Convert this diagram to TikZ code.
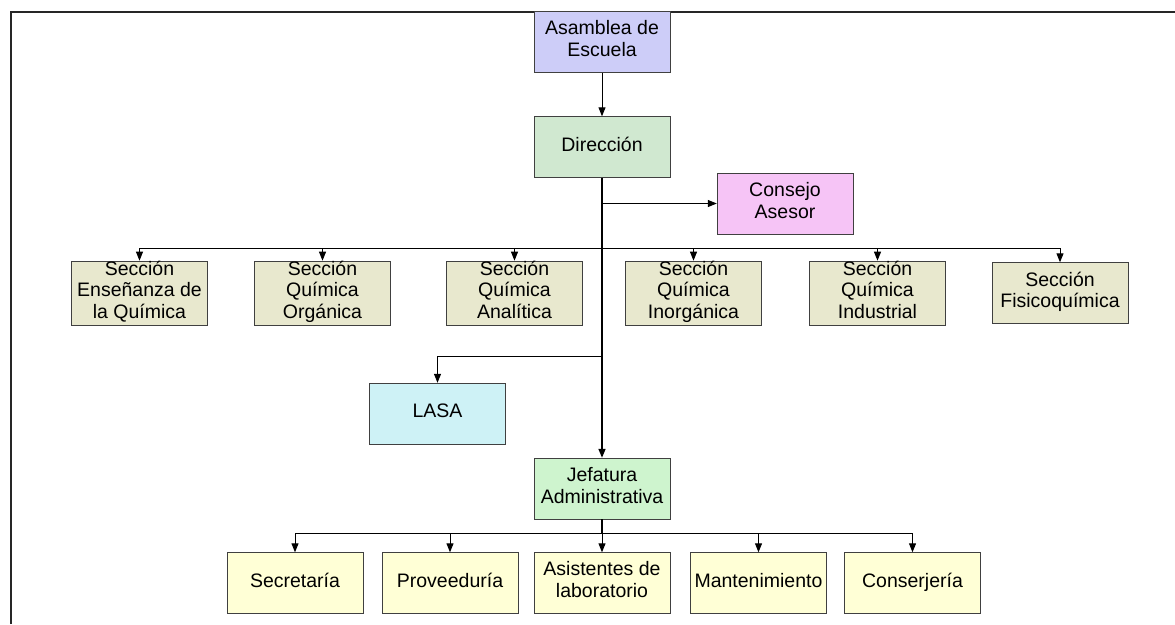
\documentclass[tikz,border=0pt]{standalone}
\usepackage{fontspec}
\setmainfont{Liberation Sans}
\usetikzlibrary{positioning,arrows.meta}

\definecolor{asmfill}{RGB}{205,205,248}
\definecolor{dirfill}{RGB}{208,232,208}
\definecolor{consfill}{RGB}{246,196,246}
\definecolor{secfill}{RGB}{232,232,206}
\definecolor{lasafill}{RGB}{206,242,246}
\definecolor{jefefill}{RGB}{206,244,206}
\definecolor{unitfill}{RGB}{255,255,214}

\begin{document}
\begin{tikzpicture}[x=1pt,y=-1pt,
box/.style={draw=black!75,rectangle,minimum width=136pt,minimum height=61pt,
    inner sep=0pt,align=center,font={\fontsize{19.5}{21.7}\selectfont},
    execute at begin node=\strut,execute at end node=\strut},
arr/.style={-{Triangle[length=9pt,width=7pt]},line width=1pt}]
\useasboundingbox (0,0) rectangle (1175,624);
\draw[line width=1.6pt,black!85] (11,624) -- (11,12) -- (1175,12);

\node (asm) [box,fill=asmfill] at (602,42) {Asamblea de\\Escuela};
\node (dir) [box,fill=dirfill] at (602,147) {Dirección};
\node (cons) [box,fill=consfill] at (785,203.5) {Consejo\\Asesor};

\node (ense) [box,fill=secfill] at (139.5,293) {Sección\\Enseñanza de\\la Química};
\node (orga) [box,fill=secfill] at (322.5,293) {Sección\\Química\\Orgánica};
\node (anal) [box,fill=secfill] at (514.5,293) {Sección\\Química\\Analítica};
\node (inor) [box,fill=secfill] at (693.5,293) {Sección\\Química\\Inorgánica};
\node (indu) [box,fill=secfill] at (877.5,293) {Sección\\Química\\Industrial};
\node (fisi) [box,fill=secfill] at (1060,293) {Sección\\Fisicoquímica};

\node (lasa) [box,fill=lasafill] at (437.5,413.5) {LASA};
\node (jefe) [box,fill=jefefill] at (602,488.5) {Jefatura\\Administrativa};

\node (secr) [box,fill=unitfill] at (295,583) {Secretaría};
\node (prov) [box,fill=unitfill] at (450,583) {Proveeduría};
\node (asis) [box,fill=unitfill] at (602,583) {Asistentes de\\laboratorio};
\node (mant) [box,fill=unitfill] at (758.5,583) {Mantenimiento};
\node (conj) [box,fill=unitfill] at (912.5,583) {Conserjería};

\coordinate (secbus) at (602,248);
\coordinate (lasabr) at (602,356);
\coordinate (unitbus) at (602,533);

\draw[arr] (asm) -- (dir);
\draw[arr,line width=1.6pt] (dir) -- (jefe);
\draw[arr] (dir.south |- cons.west) -- (cons.west);
\foreach \s in {ense,orga,anal,inor,indu,fisi}
  \draw[arr] (secbus) -| (\s.north);
\draw[arr] (lasabr) -| (lasa.north);
\draw[line width=1.6pt] (jefe) -- (unitbus);
\foreach \u in {secr,prov,asis,mant,conj}
  \draw[arr] (unitbus) -| (\u.north);
\end{tikzpicture}
\end{document}
